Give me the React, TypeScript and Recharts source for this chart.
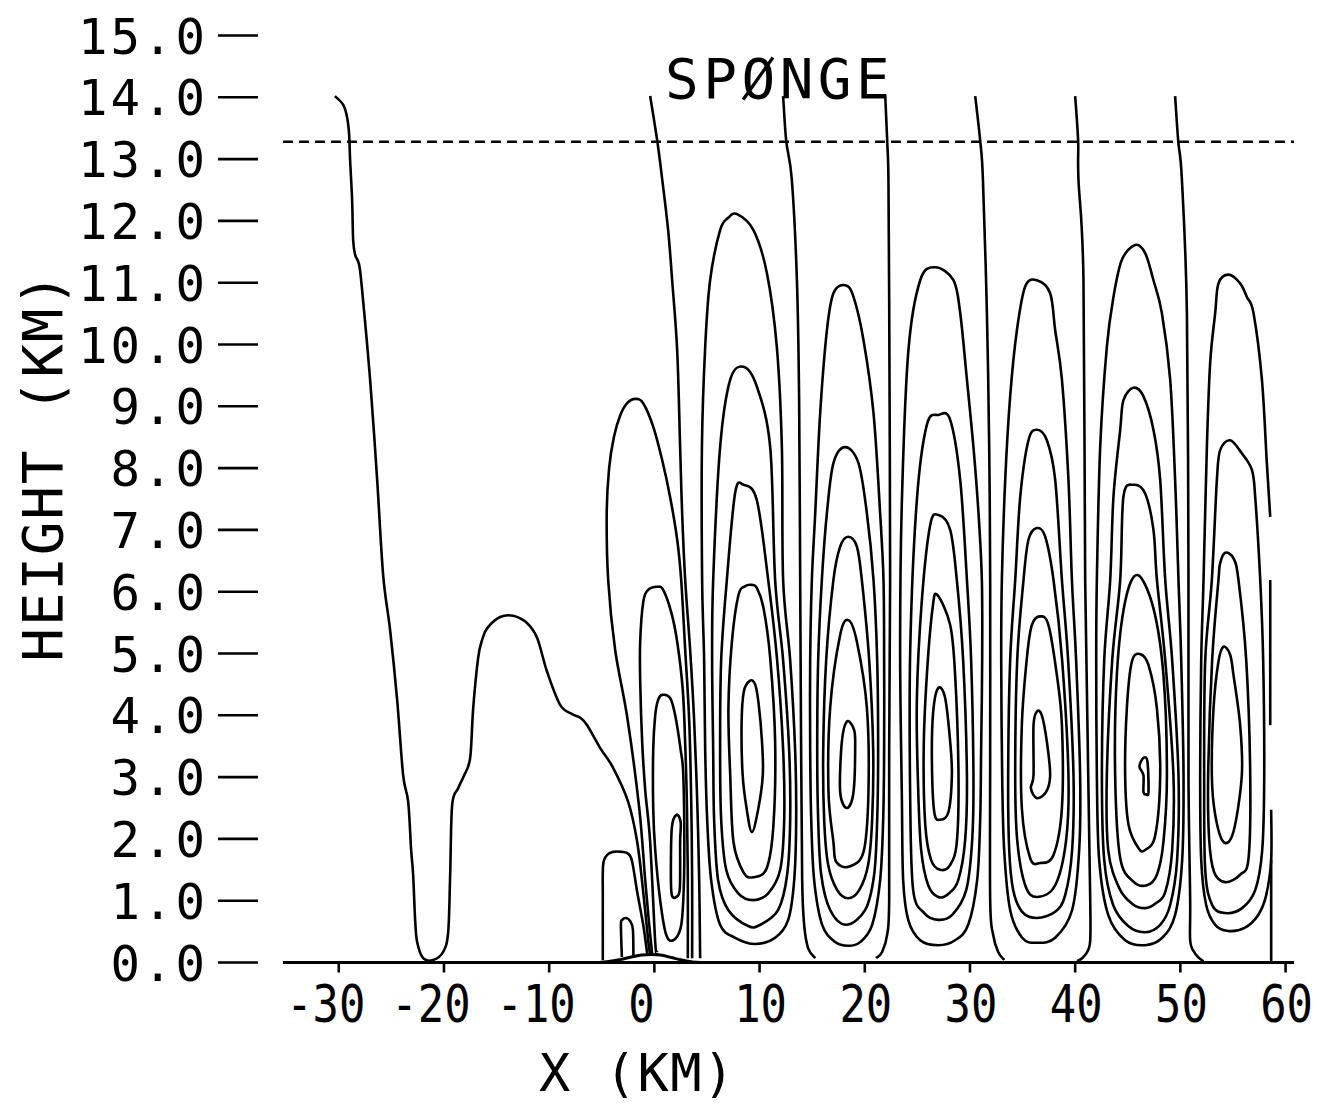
import React from 'react';
import { LineChart, Line, XAxis, YAxis, ReferenceLine } from 'recharts';

type Pt = [number, number];

// ---- axis values ----
const xTicks = [-30, -20, -10, 0, 10, 20, 30, 40, 50, 60];
const yTicks = [0, 1, 2, 3, 4, 5, 6, 7, 8, 9, 10, 11, 12, 13, 14, 15];
const xDomain: [number, number] = [-35.3, 60.8];
const yDomain: [number, number] = [0, 15];
const spongeHeight = 13.28;

// ---- contour lines, [x km, height km] ----
const contourL1: Pt[] = [[-30.37,14.02],[-29.58,13.88],[-29.2,13.67],[-29.01,13.39],[-28.92,12.98],[-28.73,12.34],[-28.63,11.69],[-28.44,11.45],[-28.06,11.29],[-27.78,10.88],[-27.02,9.43],[-26.35,7.81],[-25.78,6.27],[-25.12,5.38],[-24.45,4.25],[-23.88,3.03],[-23.4,2.6],[-23.12,1.82],[-22.93,1.42],[-22.74,0.69],[-22.55,0.33],[-21.98,0.07],[-21.03,0.04],[-20.08,0.17],[-19.6,0.49],[-19.41,1.42],[-19.22,2.55],[-18.65,2.82],[-18.08,3.03],[-17.51,3.31],[-17.22,4.12],[-16.75,4.93],[-16.37,5.22],[-15.89,5.41],[-14.66,5.59],[-13.42,5.61],[-12.09,5.49],[-11.14,5.25],[-10.19,4.7],[-8.96,4.17],[-7.81,4.02],[-7.05,3.96],[-6.39,3.84],[-5.15,3.47],[-3.92,3.15],[-2.49,2.6],[-1.63,1.95],[-1.06,1.14],[-0.59,0.36],[-0.4,0.12]];

const cell0A: Pt[] = [[-0.21,0.14],[-0.49,0.61],[-0.87,1.33],[-1.44,2.5],[-2.57,3.96],[-3.73,5.06],[-4.39,6.19],[-4.53,7.27],[-4.3,8.0],[-3.85,8.5],[-3.25,8.85],[-2.59,9.05],[-1.82,9.12],[-1.06,9.05],[-0.11,8.67],[0.74,8.13],[1.5,7.53],[2.17,6.84],[2.55,6.19],[2.93,5.06],[3.31,3.92],[3.5,2.63],[3.59,1.33],[3.59,0.07]];
const cell0B: Pt[] = [[0.27,0.17],[0.08,0.33],[-0.4,1.95],[-0.87,2.79],[-1.16,3.57],[-1.35,4.57],[-1.35,5.19],[-1.06,5.83],[-0.59,6.03],[0.27,6.08],[0.84,6.03],[1.6,5.67],[2.17,5.19],[2.7,4.41],[2.95,3.44],[3.1,2.5],[3.18,1.33],[3.18,0.07]];
const cell0C: Pt[] = [[0.74,4.33],[1.5,4.28],[1.98,4.0],[2.5,3.44],[2.75,3.03],[2.85,1.82],[2.75,1.01],[2.5,0.56],[1.79,0.36],[1.12,0.45],[0.55,1.01],[0.08,1.82],[-0.11,2.5],[-0.11,3.44],[0.08,4.0],[0.36,4.25],[0.74,4.33]];
const cell0D: Pt[] = [[2.1,2.39],[2.5,2.27],[2.45,1.95],[2.42,1.2],[2.07,1.06],[1.66,1.09],[1.57,1.42],[1.66,2.18],[2.1,2.39]];
const cell0E: Pt[] = [[-4.9,0.04],[-4.9,1.01],[-4.87,1.58],[-4.49,1.74],[-3.92,1.79],[-3.06,1.79],[-2.49,1.76],[-2.11,1.63],[-1.63,1.14],[-1.06,0.61],[-0.68,0.14]];
const cell0F: Pt[] = [[-3.09,0.09],[-3.18,0.61],[-3.06,0.69],[-2.68,0.72],[-2.3,0.67],[-2.04,0.53],[-1.99,0.1]];
const sep0: Pt[] = [[-0.4,14.02],[0.27,13.3],[0.74,12.68],[1.31,11.85],[1.69,11.04],[2.17,9.9],[2.45,8.33],[2.64,7.27],[2.93,6.19],[3.4,5.06],[3.78,3.92],[4.07,2.63],[4.26,1.33],[4.35,0.07]];

const cell1A: Pt[] = [[7.87,12.11],[9.42,11.85],[10.69,11.16],[11.64,9.96],[12.12,8.34],[12.24,6.19],[12.91,4.89],[13.38,3.44],[13.48,2.31],[13.29,1.33],[12.72,0.69],[11.48,0.4],[9.58,0.3],[7.68,0.4],[6.25,0.61],[5.4,1.33],[5.02,2.31],[4.83,3.44],[4.73,4.89],[4.54,6.19],[4.52,8.34],[4.83,9.96],[5.3,11.04],[6.25,11.85],[7.02,12.05],[7.87,12.11]];
const cell1B: Pt[] = [[8.47,9.64],[9.74,9.32],[11.01,8.34],[11.48,6.19],[12.24,4.89],[12.81,3.44],[12.91,2.31],[12.62,1.42],[11.77,0.85],[10.06,0.61],[8.92,0.59],[7.02,0.85],[6.06,1.33],[5.68,2.31],[5.59,3.44],[5.49,4.89],[5.59,6.19],[6.25,8.34],[7.21,9.43],[8.47,9.64]];
const cell1C: Pt[] = [[8.47,7.73],[9.74,7.48],[10.82,6.19],[11.67,4.89],[12.24,3.44],[12.34,2.31],[11.96,1.5],[10.82,1.12],[9.39,1.01],[7.97,1.12],[6.83,1.5],[6.35,2.31],[6.25,3.44],[6.35,4.89],[6.89,6.19],[7.68,7.6],[8.47,7.73]];
const cell1D: Pt[] = [[9.27,6.11],[9.74,6.06],[10.37,5.74],[11.01,4.93],[11.48,3.57],[11.32,2.23],[10.69,1.53],[9.42,1.38],[8.47,1.46],[7.52,1.95],[7.21,3.03],[7.04,4.12],[7.37,5.19],[8.0,5.95],[8.64,6.09],[9.27,6.11]];
const cell1E: Pt[] = [[9.27,2.11],[9.88,2.49],[10.31,3.04],[10.22,3.6],[9.9,4.2],[9.58,4.5],[9.1,4.56],[8.5,4.38],[8.29,3.85],[8.39,3.04],[8.77,2.49],[9.27,2.11]];
const sep1: Pt[] = [[12.24,14.02],[12.53,13.3],[13.07,12.66],[13.55,11.04],[13.76,9.1],[13.86,6.19],[13.95,3.44],[14.05,1.33],[14.24,0.61],[14.62,0.23],[15.29,0.07]];

const cell2A: Pt[] = [[18.14,10.96],[18.93,10.77],[19.88,10.07],[20.83,8.89],[21.46,7.27],[21.78,6.19],[21.84,4.89],[21.84,3.44],[21.75,2.31],[21.46,1.33],[20.7,0.61],[19.56,0.33],[18.42,0.27],[17.19,0.33],[15.95,0.61],[15.19,1.33],[14.91,2.31],[14.81,3.44],[14.81,4.89],[14.97,6.19],[15.29,7.27],[15.76,8.89],[16.4,10.23],[17.02,10.83],[18.14,10.96]];
const cell2B: Pt[] = [[18.14,8.34],[19.4,8.08],[20.2,7.27],[20.83,6.19],[21.18,4.89],[21.27,3.44],[21.18,2.31],[20.89,1.42],[20.04,0.85],[18.23,0.61],[16.71,0.85],[15.86,1.42],[15.57,2.31],[15.48,3.44],[15.57,4.89],[15.92,6.19],[16.4,7.27],[17.02,8.08],[18.14,8.34]];
const cell2C: Pt[] = [[18.42,6.89],[19.25,6.73],[19.72,6.19],[20.42,4.89],[20.8,3.44],[20.7,2.31],[20.32,1.58],[19.47,1.17],[18.42,1.04],[17.38,1.17],[16.52,1.58],[16.14,2.31],[16.05,3.44],[16.33,4.89],[17.02,6.19],[17.66,6.73],[18.42,6.89]];
const cell2D: Pt[] = [[18.45,5.54],[19.25,5.19],[20.2,4.12],[20.35,2.76],[19.88,1.79],[18.45,1.55],[17.28,1.63],[17.02,1.95],[16.55,2.76],[16.71,4.12],[17.66,5.3],[18.45,5.54]];
const cell2E: Pt[] = [[18.3,3.9],[18.93,3.79],[19.09,3.57],[18.93,2.76],[18.3,2.5],[17.66,2.76],[17.82,3.57],[18.3,3.9]];
const sep2: Pt[] = [[21.94,14.04],[22.13,13.3],[22.25,12.68],[22.32,10.72],[22.41,6.19],[22.32,3.44],[22.32,1.01],[22.13,0.45],[21.65,0.17],[21.08,0.07]];

const cell3A: Pt[] = [[26.69,11.25],[28.43,11.04],[29.07,10.51],[29.71,9.43],[30.33,8.34],[30.81,7.27],[31.13,6.19],[31.16,4.89],[31.06,3.44],[30.97,2.31],[30.68,1.33],[29.83,0.61],[28.59,0.36],[26.98,0.28],[25.27,0.36],[24.13,0.69],[23.65,1.33],[23.53,2.63],[23.36,5.06],[23.53,7.48],[24.15,9.91],[25.27,11.04],[26.69,11.25]];
const cell3B: Pt[] = [[27.01,8.86],[28.12,8.78],[29.07,7.81],[29.71,6.19],[30.11,4.89],[30.33,3.03],[30.21,1.98],[29.64,1.17],[28.31,0.77],[26.98,0.69],[25.65,0.8],[24.6,1.17],[24.32,2.63],[24.32,5.06],[24.95,7.48],[25.9,8.7],[27.01,8.86]];
const cell3C: Pt[] = [[27.01,7.24],[28.12,7.0],[28.75,6.19],[29.35,4.89],[29.71,3.03],[29.54,1.98],[28.88,1.33],[27.93,1.11],[26.98,1.06],[26.03,1.25],[25.36,1.82],[25.08,2.79],[24.95,4.25],[25.43,5.87],[26.22,7.08],[27.01,7.24]];
const cell3D: Pt[] = [[26.88,5.95],[28.12,5.46],[28.59,4.65],[28.91,3.03],[28.75,1.95],[28.12,1.58],[27.17,1.5],[26.3,1.66],[25.75,2.23],[25.6,3.44],[25.9,4.65],[26.45,5.74],[26.88,5.95]];
const cell3E: Pt[] = [[26.98,4.44],[27.64,4.28],[28.12,3.57],[28.28,3.03],[27.96,2.44],[27.17,2.31],[26.6,2.44],[26.38,3.28],[26.5,4.05],[26.98,4.44]];
const sep3: Pt[] = [[30.5,14.02],[30.97,13.3],[31.23,12.68],[31.61,10.51],[31.83,8.29],[31.92,6.19],[31.92,3.44],[31.92,1.01],[32.2,0.45],[32.68,0.17],[33.25,0.04]];

const cell4A: Pt[] = [[36.36,11.04],[37.62,10.83],[38.1,10.23],[38.74,9.43],[39.36,7.81],[39.69,6.19],[40.09,4.89],[40.47,3.03],[40.38,1.82],[39.71,0.85],[38.1,0.4],[36.36,0.32],[34.96,0.4],[33.82,0.85],[33.25,1.82],[33.06,3.03],[32.97,4.89],[33.03,6.19],[33.35,7.81],[33.82,9.16],[34.46,10.23],[35.25,10.94],[36.36,11.04]];
const cell4B: Pt[] = [[36.36,8.62],[37.31,8.45],[38.1,7.81],[38.74,6.19],[39.33,4.89],[39.84,3.03],[39.71,1.82],[39.05,1.09],[38.1,0.82],[36.36,0.72],[34.96,0.82],[34.11,1.17],[33.73,1.82],[33.63,3.03],[33.82,4.89],[34.3,6.19],[34.78,7.54],[35.56,8.45],[36.36,8.62]];
const cell4C: Pt[] = [[36.36,7.03],[37.15,6.89],[37.94,6.19],[38.76,4.89],[39.36,3.03],[39.14,1.98],[38.1,1.25],[36.36,1.06],[35.25,1.25],[34.49,1.98],[34.3,3.03],[34.49,4.89],[35.09,6.19],[35.56,6.84],[36.36,7.03]];
const cell4D: Pt[] = [[36.67,5.6],[37.46,5.46],[38.26,4.65],[38.74,3.84],[38.74,2.5],[37.94,1.74],[36.67,1.61],[35.72,1.69],[34.93,2.5],[34.93,3.84],[35.41,4.93],[35.88,5.46],[36.67,5.6]];
const cell4E: Pt[] = [[36.36,4.06],[36.83,4.0],[37.31,3.57],[37.62,3.03],[37.24,2.76],[36.36,2.66],[35.79,2.82],[36.04,3.03],[36.04,3.84],[36.36,4.06]];
const sep4: Pt[] = [[40.0,14.02],[40.28,13.3],[40.31,12.68],[40.79,11.04],[40.95,6.19],[41.24,3.03],[41.43,1.01],[41.43,0.36],[41.14,0.17],[40.66,0.07],[40.19,0.02]];

const cell5A: Pt[] = [[45.7,11.61],[46.65,11.48],[47.44,11.04],[48.24,10.51],[49.03,9.43],[49.5,7.81],[49.82,6.19],[50.08,4.89],[50.3,3.03],[50.17,1.66],[49.5,0.77],[48.27,0.4],[46.65,0.28],[44.75,0.36],[43.14,0.77],[42.28,1.66],[42.06,3.03],[42.0,4.89],[42.06,6.19],[42.38,8.35],[43.01,9.96],[43.64,10.77],[44.44,11.37],[45.7,11.61]];
const cell5B: Pt[] = [[45.54,9.3],[46.49,9.16],[47.44,8.62],[48.08,7.81],[48.56,6.19],[49.22,4.89],[49.82,3.03],[49.69,1.66],[49.03,0.93],[48.08,0.61],[46.65,0.49],[45.04,0.59],[43.61,0.93],[42.76,1.66],[42.54,3.03],[42.76,4.89],[43.33,6.19],[43.64,7.54],[44.28,8.62],[44.59,9.1],[45.54,9.3]];
const cell5C: Pt[] = [[45.54,7.73],[46.65,7.59],[47.44,7.0],[47.77,6.19],[48.56,4.89],[49.34,3.03],[49.22,1.82],[48.56,1.14],[47.6,0.95],[46.65,0.88],[45.5,0.94],[44.2,1.2],[43.14,1.82],[43.01,3.03],[43.52,4.89],[44.28,6.19],[44.59,7.54],[45.54,7.73]];
const cell5D: Pt[] = [[45.94,6.27],[47.44,5.73],[48.39,4.65],[48.72,3.03],[48.39,1.95],[47.77,1.42],[46.81,1.25],[45.54,1.31],[44.28,1.69],[43.8,3.03],[43.96,4.65],[44.75,5.84],[45.94,6.27]];
const cell5E: Pt[] = [[46.18,4.99],[46.97,4.81],[47.77,4.11],[48.08,3.03],[47.61,2.06],[46.65,1.82],[46.02,1.85],[45.07,2.23],[44.75,3.03],[44.91,4.11],[45.39,4.87],[46.18,4.99]];
const cell5F: Pt[] = [[46.49,3.31],[46.87,3.25],[46.97,2.76],[46.75,2.72],[46.49,2.76],[46.49,3.03],[46.11,3.17],[46.49,3.31]];
const sep5: Pt[] = [[49.5,14.02],[49.79,13.3],[50.14,12.68],[50.62,10.51],[50.77,6.19],[50.77,3.03],[50.93,1.01],[50.93,0.36],[51.31,0.17],[51.79,0.07],[52.2,0.02]];

const cell6A: Pt[] = [[58.54,7.21],[58.22,8.08],[57.75,9.43],[56.95,10.51],[56.32,10.77],[55.68,10.99],[54.57,11.13],[53.62,10.99],[53.31,10.51],[52.83,9.7],[52.52,8.35],[52.2,6.19],[51.98,4.89],[51.88,3.03],[51.98,1.66],[52.45,0.93],[53.31,0.61],[54.54,0.51],[56.1,0.56],[57.4,0.77],[58.16,1.09],[58.63,1.66],[58.63,2.47]];
const cell6B: Pt[] = [[54.73,8.45],[55.84,8.24],[56.8,7.97],[57.11,7.54],[57.59,6.19],[57.87,4.89],[57.97,3.03],[57.78,1.82],[57.11,1.17],[55.87,0.88],[54.26,0.8],[53.02,0.93],[52.36,1.5],[52.26,3.03],[52.36,4.89],[52.99,6.19],[53.47,7.81],[53.78,8.29],[54.73,8.45]];
const cell6C: Pt[] = [[54.26,6.63],[55.05,6.54],[55.52,6.19],[56.26,4.89],[56.64,3.03],[56.48,1.69],[55.68,1.42],[54.26,1.3],[53.21,1.46],[52.74,1.98],[52.64,3.03],[53.02,4.89],[53.62,6.19],[53.78,6.46],[54.26,6.63]];
const cell6D: Pt[] = [[54.1,5.11],[54.73,4.98],[55.05,4.65],[55.68,3.84],[55.84,3.03],[55.05,2.12],[54.1,1.95],[53.31,2.39],[52.99,3.03],[53.15,4.11],[53.62,4.87],[54.1,5.11]];
const edgeUpper: Pt[] = [[58.54,6.19],[58.54,3.84]];
const edgeLower: Pt[] = [[58.63,1.66],[58.63,0.0]];

const terrain: Pt[] = [[-5.3,0],[-4.2,0.02],[-3.2,0.05],[-2.2,0.09],[-1.2,0.12],[-0.3,0.13],[0.6,0.12],[1.6,0.08],[2.6,0.04],[3.6,0.01],[4.6,0]];

const contourSets: Pt[][] = [
  contourL1,
  cell0A, cell0B, cell0C, cell0D, cell0E, cell0F, sep0,
  cell1A, cell1B, cell1C, cell1D, cell1E, sep1,
  cell2A, cell2B, cell2C, cell2D, cell2E, sep2,
  cell3A, cell3B, cell3C, cell3D, cell3E, sep3,
  cell4A, cell4B, cell4C, cell4D, cell4E, sep4,
  cell5A, cell5B, cell5C, cell5D, cell5E, cell5F, sep5,
  cell6A, cell6B, cell6C, cell6D, edgeUpper, edgeLower,
];

const toRows = (a: Pt[]) => a.map(([x, h]) => ({ x, h }));

// Catmull-Rom style smooth curve (passes through every point, closes smoothly)
function smoothCurve(context: any) {
  let pts: number[][] = [];
  return {
    areaStart() {},
    areaEnd() {},
    lineStart() { pts = []; },
    point(x: number, y: number) { pts.push([+x, +y]); },
    lineEnd() {
      const n = pts.length;
      if (!n) return;
      context.moveTo(pts[0][0], pts[0][1]);
      if (n < 3) {
        for (let i = 1; i < n; i++) context.lineTo(pts[i][0], pts[i][1]);
        return;
      }
      const closed = Math.hypot(pts[0][0] - pts[n - 1][0], pts[0][1] - pts[n - 1][1]) < 0.5;
      for (let i = 0; i < n - 1; i++) {
        const p1 = pts[i];
        const p2 = pts[i + 1];
        const p0 = i > 0 ? pts[i - 1] : closed ? pts[n - 2] : p1;
        const p3 = i + 2 < n ? pts[i + 2] : closed ? pts[1] : p2;
        context.bezierCurveTo(
          p1[0] + (p2[0] - p0[0]) / 6, p1[1] + (p2[1] - p0[1]) / 6,
          p2[0] - (p3[0] - p1[0]) / 6, p2[1] - (p3[1] - p1[1]) / 6,
          p2[0], p2[1]
        );
      }
    },
  };
}

const INK = '#000';
const MONO = "'DejaVu Sans Mono', 'Liberation Mono', monospace";

const XTick = (props: any) => {
  const { x, y, payload } = props;
  const v = Number(payload.value);
  const dx = v <= 0 ? -13 : 1;
  return (
    <text
      transform={`translate(${x + dx},${y + 49}) scale(0.86,1)`}
      textAnchor="middle"
      fontFamily={MONO}
      fontSize={51}
      fill={INK}
    >
      {String(v)}
    </text>
  );
};

const YTick = (props: any) => {
  const { x, y, payload } = props;
  return (
    <g>
      <text
        x={x - 75}
        y={y + 18}
        textAnchor="end"
        fontFamily={MONO}
        fontSize={49}
        letterSpacing={3}
        fill={INK}
      >
        {Number(payload.value).toFixed(1)}
      </text>
      <line x1={x - 65} x2={x - 25} y1={y} y2={y} stroke={INK} strokeWidth={2.6} />
    </g>
  );
};

const YTitle = (props: any) => {
  const vb = props && props.viewBox && props.viewBox.height ? props.viewBox : { x: 215, y: 27.5, width: 60, height: 927 };
  const cx = vb.x - 161;
  const cy = vb.y + vb.height / 2 - 32.5;
  return (
    <text transform={`translate(${cx},${cy}) rotate(-90)`} textAnchor="middle" fontFamily={MONO} fontSize={56} letterSpacing={1.8} fill={INK}>
      HEIGHT (KM)
    </text>
  );
};

const XTitle = (props: any) => {
  const vb = props && props.viewBox && props.viewBox.width ? props.viewBox : { x: 275, y: 954.5, width: 1011, height: 60 };
  return (
    <text x={vb.x + 354.5} y={vb.y + 128} textAnchor="middle" fontFamily={MONO} fontSize={52} letterSpacing={1.5} fill={INK}>
      X (KM)
    </text>
  );
};

const SpongeLabel = (props: any) => {
  const vb = props && props.viewBox && props.viewBox.width ? props.viewBox : { x: 275, y: 133.8, width: 1011, height: 0 };
  return (
    <text x={vb.x + 382} y={vb.y - 43.8} fontFamily={MONO} fontSize={56} letterSpacing={4.5} fill={INK}>
      SPØNGE
    </text>
  );
};

export default function App() {
  return (
    <div style={{ width: 1312, height: 1097, background: '#fff' }}>
      <LineChart
        width={1312}
        height={1097}
        margin={{ top: 27.5, right: 26, left: 215, bottom: 82.5 }}
      >
        <XAxis
          type="number"
          dataKey="x"
          domain={xDomain}
          ticks={xTicks}
          interval={0}
          allowDataOverflow
          height={60}
          tickSize={10}
          tickMargin={0}
          tickLine={{ stroke: INK, strokeWidth: 2.6 }}
          axisLine={{ stroke: INK, strokeWidth: 2.8 }}
          tick={<XTick />}
          label={(p: any) => <XTitle {...p} />}
        />
        <YAxis
          type="number"
          dataKey="h"
          domain={yDomain}
          ticks={yTicks}
          interval={0}
          allowDataOverflow
          width={60}
          tickSize={0}
          tickMargin={0}
          tickLine={false}
          axisLine={false}
          tick={<YTick />}
          label={(p: any) => <YTitle {...p} />}
        />
        <ReferenceLine
          y={spongeHeight}
          stroke={INK}
          strokeWidth={2.6}
          strokeDasharray="10 6"
          label={(p: any) => <SpongeLabel {...p} />}
        />
        <Line
          data={toRows(terrain)}
          dataKey="h"
          type={smoothCurve as any}
          stroke={INK}
          strokeWidth={3}
          dot={false}
          activeDot={false}
          isAnimationActive={false}
        />
        {contourSets.map((c, i) => (
          <Line
            key={i}
            data={toRows(c)}
            dataKey="h"
            type={smoothCurve as any}
            stroke={INK}
            strokeWidth={2.6}
            dot={false}
            activeDot={false}
            isAnimationActive={false}
          />
        ))}
      </LineChart>
    </div>
  );
}
